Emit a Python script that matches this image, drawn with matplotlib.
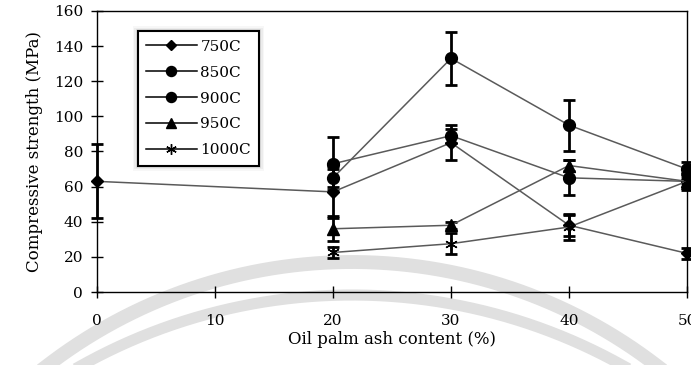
import numpy as np
import matplotlib
matplotlib.use('Agg')
import matplotlib.pyplot as plt
from matplotlib.patches import Rectangle

matplotlib.rcParams.update({'font.family': ['DejaVu Serif']})

# oil palm ash content (%)
x_750 = [0, 20, 30, 40, 50]
y_750 = [63, 57, 85, 38, 22]
e_750 = [21, 15, 10, 6, 3]

x_850 = [20, 30, 40, 50]
y_850 = [65, 133, 95, 70]
e_850 = [5, 15, 14.5, 4]

x_900 = [20, 30, 40, 50]
y_900 = [73, 89, 65, 63]
e_900 = [15, 4, 10, 5]

x_950 = [20, 30, 40, 50]
y_950 = [36, 38, 72, 63]
e_950 = [7, 2, 3, 4]

x_1000 = [20, 30, 40, 50]
y_1000 = [22.5, 27.5, 37, 63]
e_1000 = [3, 6, 7.5, 4]

series = [
    ('750C', x_750, y_750, e_750, 'D', 6),
    ('850C', x_850, y_850, e_850, 'o', 8.5),
    ('900C', x_900, y_900, e_900, 'o', 8.5),
    ('950C', x_950, y_950, e_950, '^', 8),
    ('1000C', x_1000, y_1000, e_1000, (6, 2, 0), 9),
]

fig = plt.figure(figsize=(6.91, 3.65), dpi=100)

# faint watermark behind the chart (pixel coordinates)
bg = fig.add_axes([0, 0, 1, 1], zorder=0)
bg.set_xlim(0, 691)
bg.set_ylim(365, 0)
bg.axis('off')
t = np.linspace(0, 2 * np.pi, 600)
for cx, cy, r, w in [(352, 762, 500, 10), (352, 850, 555, 8)]:
    bg.plot(cx + r * np.cos(t), cy + r * np.sin(t), color='#e0e0e0', lw=w)

ax = fig.add_axes([0.1404, 0.2, 0.8538, 0.7699], zorder=1)
ax.patch.set_alpha(0)

for name, xs, ys, es, mk, ms in series:
    ax.errorbar(xs, ys, yerr=es, fmt='none', ecolor='black', elinewidth=2,
                capsize=4, capthick=2, zorder=3, clip_on=False)
    ax.plot(xs, ys, color='#5a5a5a', lw=1.1, marker=mk, ms=ms,
            mfc='black', mec='black', mew=1, label=name, zorder=4, clip_on=False)

ax.set_xlim(0, 50)
ax.set_ylim(0, 160)
ax.set_xticks(np.arange(0, 51, 10))
ax.set_yticks(np.arange(0, 161, 20))
ax.tick_params(direction='inout', length=8, width=1, labelsize=11, pad=12)
ax.tick_params(axis='y', pad=6)
for s in ax.spines.values():
    s.set_linewidth(1)

ax.set_xlabel('Oil palm ash content (%)', fontsize=12, labelpad=2)
ax.set_ylabel('Compressive strength (MPa)', fontsize=12, labelpad=8)

leg = ax.legend(loc='upper left', bbox_to_anchor=(0.056, 0.955), frameon=True,
                fancybox=False, shadow=False, fontsize=11, handlelength=3.3,
                labelspacing=0.78, borderpad=0.55, handletextpad=0.25,
                framealpha=1, markerscale=0.85)
leg.get_frame().set_edgecolor('black')
leg.get_frame().set_linewidth(1.5)
for line in leg.get_lines():
    line.set_color('black')

# soft grey glow around the legend box
fig.canvas.draw()
bb = leg.get_window_extent().transformed(fig.transFigure.inverted())
for pad, a in [(0.014, 0.06), (0.009, 0.09), (0.005, 0.14)]:
    fig.add_artist(Rectangle((bb.x0 - pad * 0.53, bb.y0 - pad), bb.width + pad * 1.06,
                             bb.height + pad * 2, transform=fig.transFigure,
                             facecolor='#808080', edgecolor='none', alpha=a, zorder=0.5))

fig.savefig('out.png', dpi=100)
